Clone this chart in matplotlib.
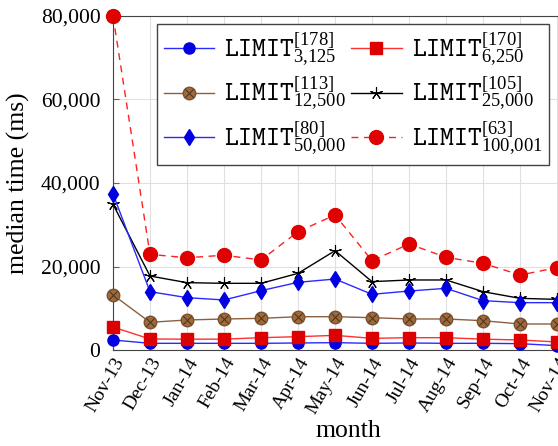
import numpy as np
import matplotlib.pyplot as plt
from matplotlib.legend_handler import HandlerTuple
from matplotlib.ticker import FuncFormatter

plt.rcParams['font.family'] = ['Liberation Serif', 'DejaVu Serif']
plt.rcParams['mathtext.fontset'] = 'custom'
plt.rcParams['mathtext.rm'] = 'Liberation Serif'
plt.rcParams['mathtext.it'] = 'Liberation Serif:italic'
plt.rcParams['mathtext.tt'] = 'cmtt10'

months = ['Nov-13', 'Dec-13', 'Jan-14', 'Feb-14', 'Mar-14', 'Apr-14', 'May-14',
          'Jun-14', 'Jul-14', 'Aug-14', 'Sep-14', 'Oct-14', 'Nov-14']

lim_3125 = [2400, 1600, 1600, 1600, 1600, 1680, 1760, 1600, 1680, 1600, 1600, 1520, 1040]
lim_6250 = [5500, 2630, 2600, 2600, 2950, 3190, 3510, 2790, 2950, 2950, 2600, 2400, 1920]
lim_12500 = [13200, 6630, 7190, 7430, 7580, 7980, 7980, 7740, 7430, 7430, 7020, 6230, 6230]
lim_25000 = [34900, 17720, 16130, 15970, 15970, 18360, 23790, 16370, 16770, 16770, 13970, 12370, 12130]
lim_50000 = [37400, 13970, 12540, 11980, 14210, 16210, 17000, 13330, 14130, 14770, 11820, 11340, 11340]
lim_100001 = [80000, 22900, 22100, 22700, 21560, 28340, 32340, 21400, 25390, 22200, 20760, 17960, 19720]

labels = [r'$\mathtt{LIMIT}^{[178]}_{3{,}125}$', r'$\mathtt{LIMIT}^{[170]}_{6{,}250}$',
          r'$\mathtt{LIMIT}^{[113]}_{12{,}500}$', r'$\mathtt{LIMIT}^{[105]}_{25{,}000}$',
          r'$\mathtt{LIMIT}^{[80]}_{50{,}000}$', r'$\mathtt{LIMIT}^{[63]}_{100{,}001}$']

fig = plt.figure(figsize=(5.58, 4.46), dpi=100)
ax = fig.add_axes([113/558, 96/446, 470/558, 334/446])
x = np.arange(len(months))

h1, = ax.plot(x, lim_3125, color='#2a2aff', lw=1, marker='o', ms=8,
              mfc='#0000e0', mec='#0000e0', clip_on=False, zorder=3)
h2, = ax.plot(x, lim_6250, color='#ff3030', lw=1, marker='s', ms=8,
              mfc='#dd0000', mec='#dd0000', clip_on=False, zorder=3)
h3a, = ax.plot(x, lim_12500, color='#8a6040', lw=1, marker='o', ms=9,
               mfc='#9c6a3c', mec='#7a5030', clip_on=False, zorder=3)
h3b, = ax.plot(x, lim_12500, lw=0, marker='x', ms=6, mew=0.7,
               color='#4a3018', clip_on=False, zorder=4)
h4, = ax.plot(x, lim_25000, color='black', lw=1, marker=(5, 2), ms=9, mew=0.8,
              clip_on=False, zorder=3)
h5, = ax.plot(x, lim_50000, color='#2a2aff', lw=1, marker='d', ms=8,
              mfc='#0000e0', mec='#0000e0', clip_on=False, zorder=3)
h6, = ax.plot(x, lim_100001, color='#ff2020', lw=1, ls=(0, (5, 4)), marker='o', ms=10,
              mfc='#e00000', mec='#e00000', clip_on=False, zorder=3)

ax.set_xlim(0, 12.7)
ax.set_ylim(0, 80000)
ax.set_yticks([0, 20000, 40000, 60000, 80000])
ax.yaxis.set_major_formatter(FuncFormatter(lambda v, p: f'{int(v):,}'))
ax.set_xticks(x)
ax.set_xticklabels(months, rotation=60, ha='right', rotation_mode='anchor')
ax.tick_params(direction='in', length=4, color='#666666')
ax.tick_params(axis='y', labelsize=15.5, pad=9)
ax.tick_params(axis='x', labelsize=14)
ax.grid(True, color='#e0e0e0', lw=0.8)
ax.set_axisbelow(True)
for s in ax.spines.values():
    s.set_color('#444444')

ax.set_xlabel('month', fontsize=18.5, labelpad=2)
ax.set_ylabel('median time (ms)', fontsize=18.5, labelpad=8)

# legend is filled row by row in the reference
handles = [h1, (h3a, h3b), h5, h2, h4, h6]
order = [0, 2, 4, 1, 3, 5]
leg = ax.legend(handles, [labels[i] for i in order], ncol=2, fontsize=19,
                loc='upper left', bbox_to_anchor=(0.094, 0.976), borderaxespad=0,
                handler_map={tuple: HandlerTuple(ndivide=1, pad=0)},
                frameon=True, fancybox=False, edgecolor='#444444', framealpha=1,
                handlelength=1.9, columnspacing=0.2, labelspacing=0.2,
                handletextpad=0.4, borderpad=0.25)
leg.get_frame().set_linewidth(1)

fig.savefig('out.png', dpi=100)
